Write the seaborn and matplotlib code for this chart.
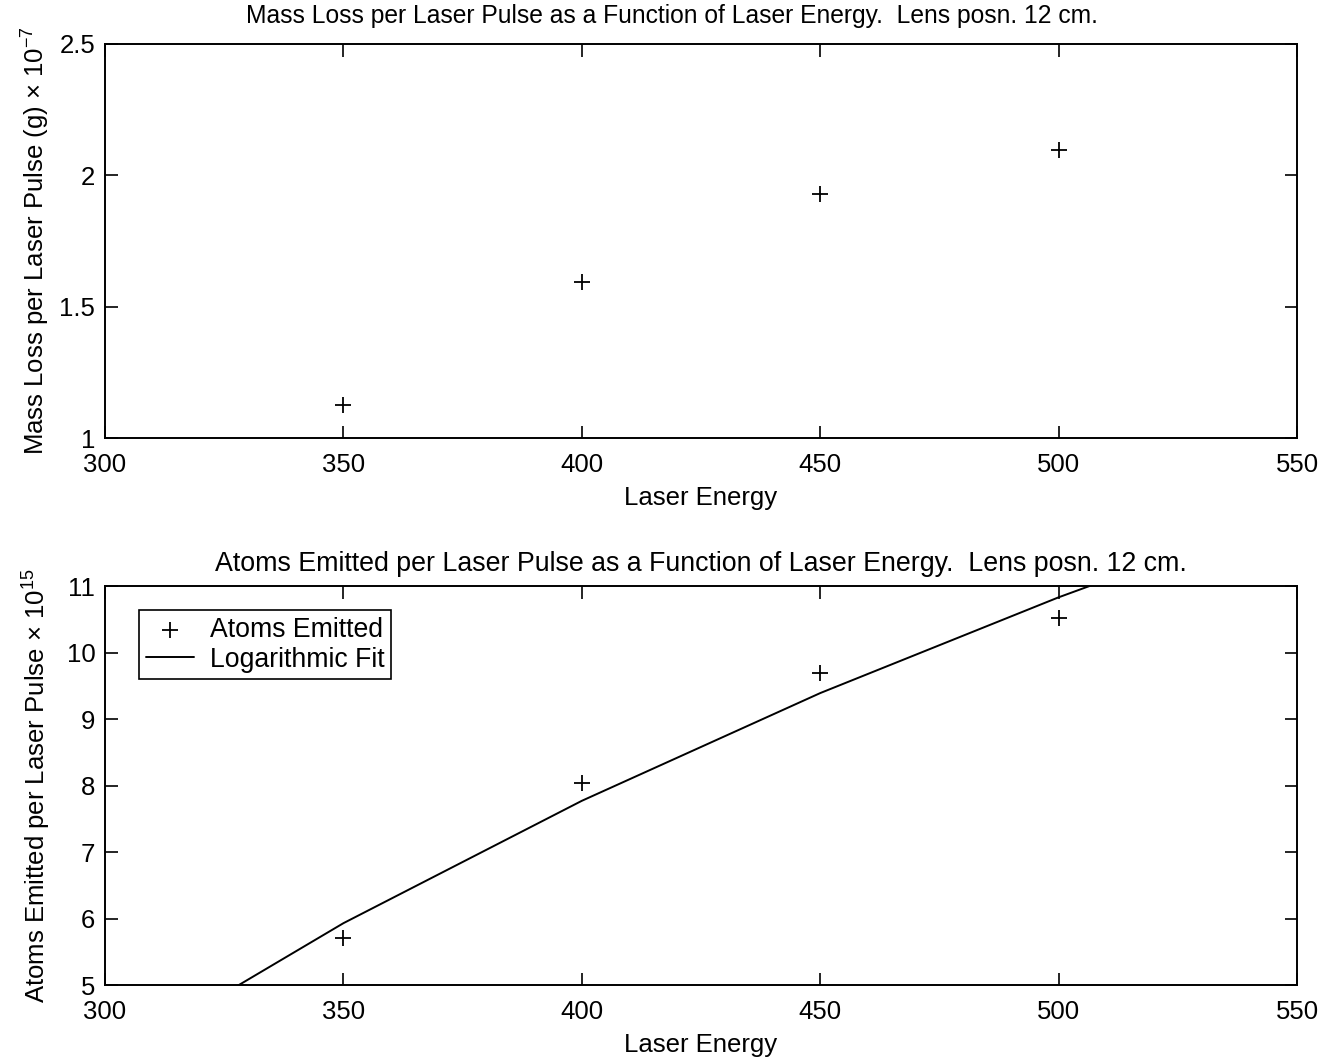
import matplotlib
matplotlib.use("Agg")
import matplotlib.pyplot as plt
import seaborn as sns
import pandas as pd
from matplotlib.ticker import FuncFormatter

# ---- data ----
energy = [350, 400, 450, 500]
mass_loss = [1.126, 1.594, 1.929, 2.096]          # x 1e-7 g
atoms_emitted = [5.70, 8.04, 9.69, 10.52]          # x 1e15
fit_energy = [300, 350, 400, 450, 500, 550]
fit_atoms = [3.81, 5.93, 7.77, 9.39, 10.83, 12.14]

x_ticks = [300, 350, 400, 450, 500, 550]
top_yticks = [1, 1.5, 2, 2.5]
bot_yticks = [5, 6, 7, 8, 9, 10, 11]

sns.set_style("ticks")
plt.rcParams['font.family'] = ['Liberation Sans', 'DejaVu Sans']
plt.rcParams['mathtext.fontset'] = 'custom'
plt.rcParams['mathtext.rm'] = 'Liberation Sans'
plt.rcParams['mathtext.it'] = 'Liberation Sans'
for k in ('text.color', 'axes.labelcolor', 'xtick.color', 'ytick.color', 'axes.edgecolor'):
    plt.rcParams[k] = 'black'
FS = 18.5

fig = plt.figure(figsize=(13.38, 10.57), dpi=100)
ax1 = fig.add_axes([0.0785, 0.5856, 0.8909, 0.3728])
ax2 = fig.add_axes([0.0785, 0.0681, 0.8909, 0.3775])

df1 = pd.DataFrame({"energy": energy, "mass": mass_loss})
df2 = pd.DataFrame({"energy": energy, "atoms": atoms_emitted})
dff = pd.DataFrame({"energy": fit_energy, "fit": fit_atoms})

sns.scatterplot(data=df1, x="energy", y="mass", marker="+", s=130,
                color="black", linewidth=1.3, ax=ax1, legend=False)

sns.scatterplot(data=df2, x="energy", y="atoms", marker="+", s=130,
                color="black", linewidth=1.3, ax=ax2, label="Atoms Emitted")
sns.lineplot(data=dff, x="energy", y="fit", color="black", linewidth=1.4,
             ax=ax2, label="Logarithmic Fit")

def fmt(v, pos):
    return "%g" % v

for ax in (ax1, ax2):
    ax.set_xlim(300, 550)
    ax.set_xticks(x_ticks)
    ax.yaxis.set_major_formatter(FuncFormatter(fmt))
    ax.tick_params(direction="in", length=9, width=1.2, top=True, right=True,
                   labelsize=FS, color="black", labelcolor="black")
    ax.tick_params(axis="x", pad=11)
    ax.tick_params(axis="y", pad=7)
    for sp in ax.spines.values():
        sp.set_visible(True)
        sp.set_linewidth(1.4)
        sp.set_color("black")
    ax.set_xlabel("Laser Energy", fontsize=FS, labelpad=6)

ax1.set_ylim(1, 2.5)
ax1.set_yticks(top_yticks)
ax1.set_ylabel(r"Mass Loss per Laser Pulse (g) $\times$ 10$^{-7}$", fontsize=FS, labelpad=5)
ax1.set_title("Mass Loss per Laser Pulse as a Function of Laser Energy.  Lens posn. 12 cm.",
              fontsize=17.7, pad=15, x=0.4757)

ax2.set_ylim(5, 11)
ax2.set_yticks(bot_yticks)
ax2.set_ylabel(r"Atoms Emitted per Laser Pulse $\times$ 10$^{15}$", fontsize=FS, labelpad=10)
ax2.set_title("Atoms Emitted per Laser Pulse as a Function of Laser Energy.  Lens posn. 12 cm.",
              fontsize=19.3, pad=11)

leg = ax2.legend(loc="upper left", bbox_to_anchor=(0.0285, 0.94), borderaxespad=0,
                 fontsize=19.2, fancybox=False, framealpha=1, edgecolor="black",
                 handlelength=1.8, handletextpad=0.6, borderpad=0.25, labelspacing=0.15)
leg.get_frame().set_linewidth(1.2)

fig.savefig("out.png", dpi=100)
